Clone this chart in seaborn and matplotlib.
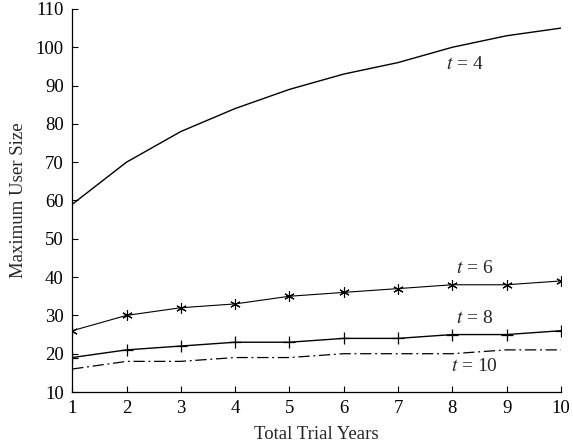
import matplotlib
matplotlib.use("Agg")
import matplotlib.pyplot as plt
import seaborn as sns
import pandas as pd

years = [1, 2, 3, 4, 5, 6, 7, 8, 9, 10]
t4 = [59, 70, 78, 84, 89, 93, 96, 100, 103, 105]
t6 = [26, 30, 32, 33, 35, 36, 37, 38, 38, 39]
t8 = [19, 21, 22, 23, 23, 24, 24, 25, 25, 26]
t10 = [16, 18, 18, 19, 19, 20, 20, 20, 21, 21]
labels = ["t = 4", "t = 6", "t = 8", "t = 10"]

sns.set_style("ticks")
plt.rcParams["font.family"] = ["Liberation Serif", "DejaVu Serif"]
plt.rcParams["mathtext.fontset"] = "stix"

fig = plt.figure(figsize=(5.73, 4.47), dpi=100)
ax = fig.add_axes([0.126, 0.123, 0.853, 0.857])

df = pd.DataFrame({"x": years, "t4": t4, "t6": t6, "t8": t8, "t10": t10})
sns.lineplot(data=df, x="x", y="t4", ax=ax, color="black", lw=1.0)
sns.lineplot(data=df, x="x", y="t6", ax=ax, color="black", lw=0.8,
             marker=(6, 2, 0), markersize=7.5, markeredgecolor="black", markeredgewidth=0.8)
sns.lineplot(data=df, x="x", y="t8", ax=ax, color="black", lw=1.0,
             marker="+", markersize=9, markeredgecolor="black", markeredgewidth=0.9)
sns.lineplot(data=df, x="x", y="t10", ax=ax, color="black", lw=0.9, linestyle="-.",
             dashes=False)
ax.lines[-1].set_linestyle((0, (9, 3, 1.5, 3)))

fs = 14
ax.text(7.88, 95.5, r"$t$ = 4", fontsize=fs, va="center", ha="left")
ax.text(8.06, 42.3, r"$t$ = 6", fontsize=fs, va="center", ha="left")
ax.text(8.06, 29.2, r"$t$ = 8", fontsize=fs, va="center", ha="left")
ax.text(7.98, 16.6, r"$t$ = 10", fontsize=fs, va="center", ha="left")

ax.set_xlim(1, 10)
ax.set_ylim(10, 110)
ax.set_xticks(years)
ax.set_yticks(range(10, 111, 10))
ax.tick_params(direction="in", length=4, width=0.8, labelsize=13.5, colors="black", pad=6)
ax.set_xlabel("Total Trial Years", fontsize=13.5, labelpad=6)
ax.set_ylabel("Maximum User Size", fontsize=13.5, labelpad=6)
sns.despine(ax=ax)
for s in ["left", "bottom"]:
    ax.spines[s].set_linewidth(0.9)
    ax.spines[s].set_color("black")

fig.savefig("out.png", dpi=100)
